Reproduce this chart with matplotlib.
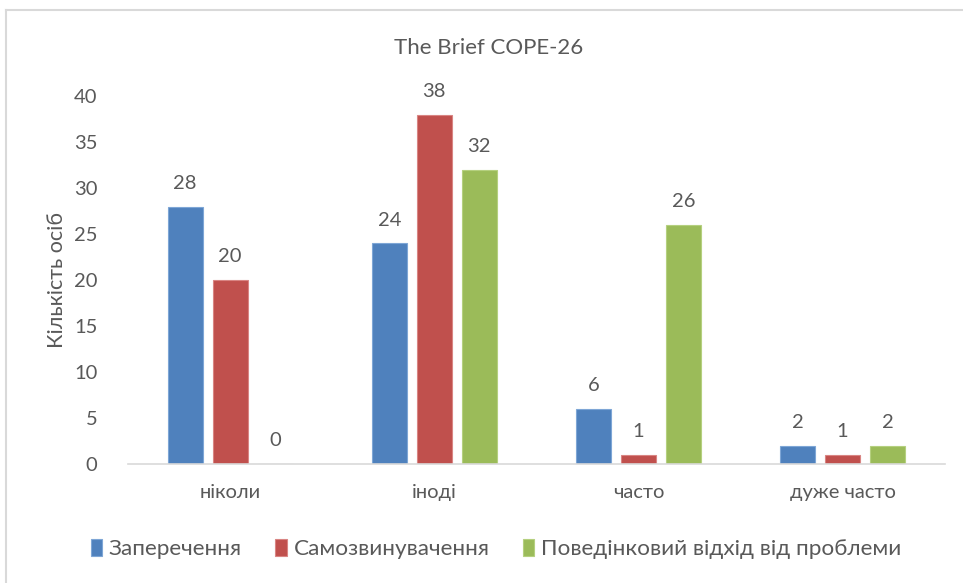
import numpy as np
import matplotlib.pyplot as plt
from matplotlib.lines import Line2D

plt.rcParams['font.family'] = ['Lato', 'DejaVu Sans']

# Дані діаграми
categories = ['ніколи', 'іноді', 'часто', 'дуже часто']
series_names = ['Заперечення', 'Самозвинувачення', 'Поведінковий відхід від проблеми']
zaperechennya = [28, 24, 6, 2]
samozvynuvachennya = [20, 38, 1, 1]
vidkhid = [0, 32, 26, 2]

colors = ['#4F81BD', '#C0504D', '#9BBB59']
edges = ['#7EA6D6', '#D98583', '#B5D07F']
text_color = '#595959'

fig = plt.figure(figsize=(9.63, 5.83), dpi=100)
ax = fig.add_axes([0.133, 0.204, 0.848, 0.631])

x = np.arange(len(categories))
width = 0.172
step = 0.22
data = [zaperechennya, samozvynuvachennya, vidkhid]

for i, (vals, name) in enumerate(zip(data, series_names)):
    pos = x + (i - 1) * step
    bars = ax.bar(pos, vals, width, color=colors[i], edgecolor=edges[i],
                  linewidth=0.8, label=name)
    for b, v in zip(bars, vals):
        ax.text(b.get_x() + b.get_width() / 2, v + 1.6, str(v),
                ha='center', va='bottom', fontsize=14.5, color=text_color)

ax.set_xlim(-0.5, 3.5)
ax.set_ylim(0, 40)
ax.set_yticks(range(0, 41, 5))
ax.set_xticks(x)
ax.set_xticklabels(categories)
ax.tick_params(axis='both', length=0, labelsize=14.5, colors=text_color)
ax.tick_params(axis='x', pad=14)
ax.tick_params(axis='y', pad=22)
for s in ['top', 'right', 'left']:
    ax.spines[s].set_visible(False)
ax.spines['bottom'].set_color('#D9D9D9')
ax.spines['bottom'].set_linewidth(1.2)

ax.set_ylabel('Кількість осіб', fontsize=15.5, color=text_color, labelpad=5)
fig.text(0.507, 0.918, 'The Brief COPE-26', ha='center', va='center',
         fontsize=16, color=text_color)

fig.legend(loc='center', bbox_to_anchor=(0.515, 0.058), ncol=3, frameon=False,
           fontsize=16.2, labelcolor=text_color, handlelength=0.5, handleheight=0.8,
           handletextpad=0.3, columnspacing=1.5)

# рамка області діаграми (видно лише верх і ліворуч)
fig.add_artist(Line2D([0.006, 1.0], [0.983, 0.983], color='#D9D9D9', lw=1.5,
                      transform=fig.transFigure))
fig.add_artist(Line2D([0.006, 0.006], [0.0, 0.983], color='#D9D9D9', lw=1.5,
                      transform=fig.transFigure))

fig.savefig('out.png', dpi=100, facecolor='white')
